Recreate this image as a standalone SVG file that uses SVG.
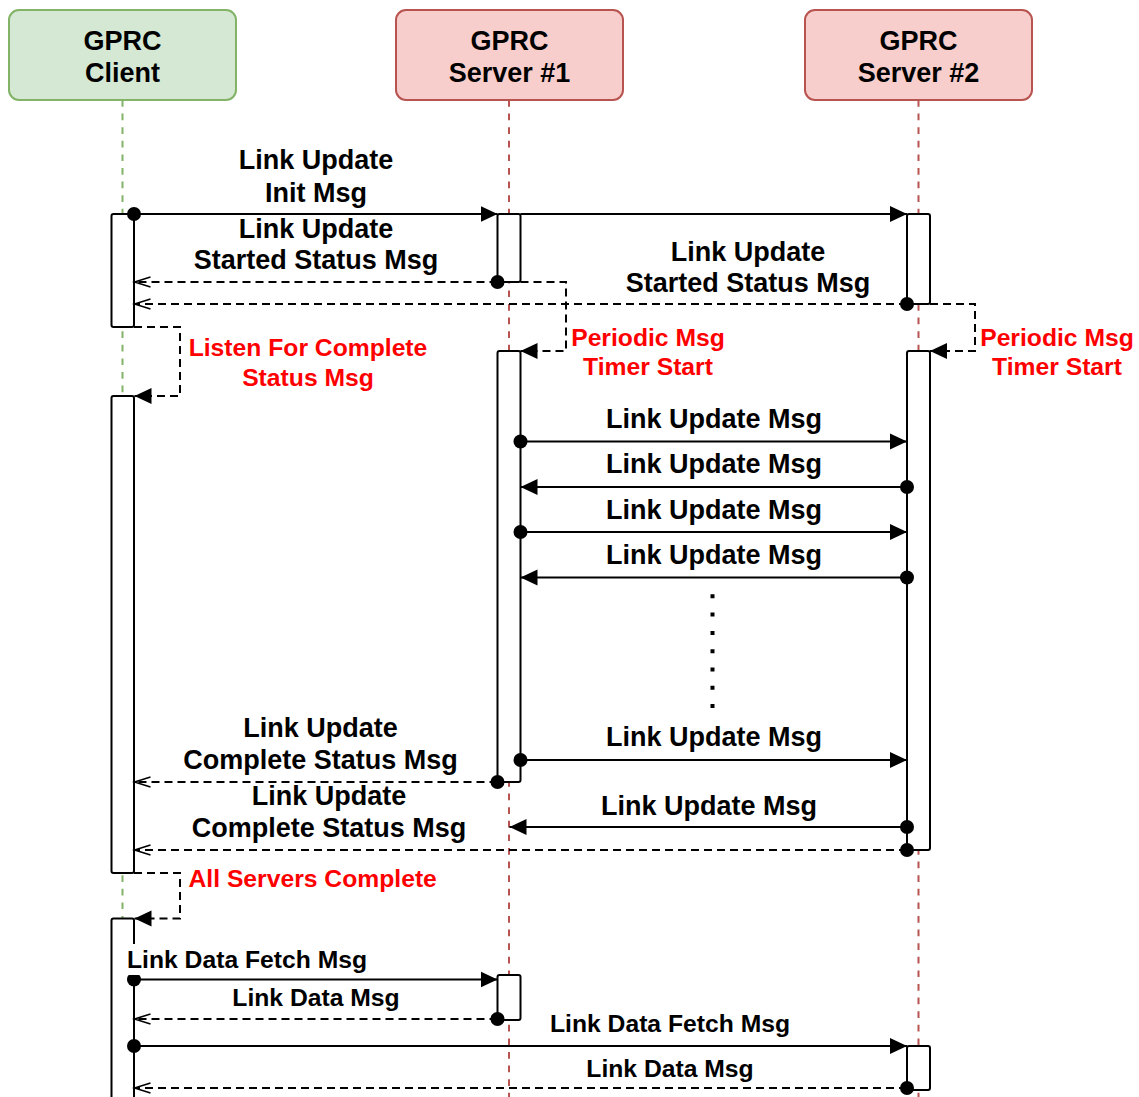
<svg xmlns="http://www.w3.org/2000/svg" width="1139" height="1097" viewBox="0 0 1139 1097">
<style>
text{font-family:"Liberation Sans",Arial,sans-serif;font-weight:bold;font-size:27px;fill:#000;text-anchor:middle}
text.red{fill:#ff0000;font-size:24.7px}
text.sm{font-size:24.7px}
text.start{text-anchor:start}
.head-g{fill:#d5e8d4;stroke:#82b366;stroke-width:2}
.head-r{fill:#f8cecc;stroke:#b85450;stroke-width:2}
.life-g{stroke:#82b366;stroke-width:2;stroke-dasharray:6.7 6.9;fill:none}
.life-r{stroke:#b85450;stroke-width:2;stroke-dasharray:6.7 6.9;fill:none}
.act{fill:#fff;stroke:#000;stroke-width:2}
.msg{fill:none;stroke:#000;stroke-width:2}
.dash{stroke-dasharray:8 5}
.dots{fill:none;stroke:#000;stroke-width:4;stroke-dasharray:4 14.3}
</style>
<defs>
<marker id="fa" markerUnits="userSpaceOnUse" markerWidth="20" markerHeight="20" viewBox="0 -10 20 20" refX="17" refY="0" orient="auto"><path d="M0,-8 L17,0 L0,8 z" fill="#000" stroke="none"/></marker>
<marker id="oa" markerUnits="userSpaceOnUse" markerWidth="20" markerHeight="20" viewBox="0 -10 20 20" refX="17" refY="0" orient="auto"><path d="M1,-5 L17,0 L1,5" fill="none" stroke="#000" stroke-width="1.6"/></marker>
<marker id="dot" markerUnits="userSpaceOnUse" markerWidth="16" markerHeight="16" viewBox="-8 -8 16 16" refX="0" refY="0"><circle r="7" fill="#000"/></marker>
</defs>
<rect width="1139" height="1097" fill="#fff"/>

<g id="lifelines">
<line class="life-g" x1="122.5" y1="100" x2="122.5" y2="1097"/>
<line class="life-r" x1="509" y1="100" x2="509" y2="1097"/>
<line class="life-r" x1="918.5" y1="100" x2="918.5" y2="1097"/>
</g>

<g id="client">
<rect class="head-g" x="9" y="10" width="227" height="90" rx="10"/>
<text x="122.5" y="50">GPRC</text>
<text x="122.5" y="82">Client</text>
</g>
<g id="server1">
<rect class="head-r" x="396" y="10" width="227" height="90" rx="10"/>
<text x="509.5" y="50">GPRC</text>
<text x="509.5" y="82">Server #1</text>
</g>
<g id="server2">
<rect class="head-r" x="805" y="10" width="227" height="90" rx="10"/>
<text x="918.5" y="50">GPRC</text>
<text x="918.5" y="82">Server #2</text>
</g>

<g id="activations">
<rect id="client-act1" class="act" x="111.5" y="214" width="22.5" height="113" rx="2"/>
<rect id="client-act2" class="act" x="111.5" y="396" width="22.5" height="477" rx="2"/>
<rect id="client-act3" class="act" x="111.5" y="918.5" width="22.5" height="200" rx="2"/>
<rect id="s1-act1" class="act" x="497.5" y="214" width="23" height="68" rx="2"/>
<rect id="s1-act2" class="act" x="497.5" y="351" width="23" height="431" rx="2"/>
<rect id="s1-act3" class="act" x="497.5" y="975" width="23" height="45" rx="2"/>
<rect id="s2-act1" class="act" x="907" y="214" width="23" height="90" rx="2"/>
<rect id="s2-act2" class="act" x="907" y="351" width="23" height="499" rx="2"/>
<rect id="s2-act3" class="act" x="907" y="1046" width="23" height="44" rx="2"/>
</g>

<g id="connectors">
<path class="msg" d="M134,214 H497.5" marker-start="url(#dot)" marker-end="url(#fa)"/>
<path class="msg" d="M520.5,214 H907" marker-end="url(#fa)"/>
<path class="msg dash" d="M497.5,282 H134.5" marker-start="url(#dot)" marker-end="url(#oa)"/>
<path class="msg dash" d="M907,304 H134.5" marker-start="url(#dot)" marker-end="url(#oa)"/>
<path class="msg dash" d="M520.5,282 H566 V351 H520.5" marker-end="url(#fa)"/>
<path class="msg dash" d="M930,304 H975 V351 H930" marker-end="url(#fa)"/>
<path class="msg dash" d="M134,327 H180 V396 H134.5" marker-end="url(#fa)"/>
<path class="msg" d="M520.5,441.5 H907" marker-start="url(#dot)" marker-end="url(#fa)"/>
<path class="msg" d="M907,487 H520.5" marker-start="url(#dot)" marker-end="url(#fa)"/>
<path class="msg" d="M520.5,532 H907" marker-start="url(#dot)" marker-end="url(#fa)"/>
<path class="msg" d="M907,577.5 H520.5" marker-start="url(#dot)" marker-end="url(#fa)"/>
<line class="dots" x1="712.5" y1="594.3" x2="712.5" y2="710"/>
<path class="msg" d="M520.5,760 H907" marker-start="url(#dot)" marker-end="url(#fa)"/>
<path class="msg dash" d="M497.5,782 H134.5" marker-start="url(#dot)" marker-end="url(#oa)"/>
<path class="msg" d="M907,827 H509.5" marker-start="url(#dot)" marker-end="url(#fa)"/>
<path class="msg dash" d="M907,850 H134.5" marker-start="url(#dot)" marker-end="url(#oa)"/>
<path class="msg dash" d="M134,873 H180 V918.5 H134.5" marker-end="url(#fa)"/>
<path class="msg" d="M134,979.5 H497.5" marker-start="url(#dot)" marker-end="url(#fa)"/>
<path class="msg dash" d="M497.5,1019 H134.5" marker-start="url(#dot)" marker-end="url(#oa)"/>
<path class="msg" d="M134,1046 H907" marker-start="url(#dot)" marker-end="url(#fa)"/>
<path class="msg dash" d="M907,1088 H134.5" marker-start="url(#dot)" marker-end="url(#oa)"/>
</g>

<g id="labels">
<text x="316" y="169">Link Update</text>
<text x="316" y="202">Init Msg</text>
<text x="316" y="238">Link Update</text>
<text x="316" y="269">Started Status Msg</text>
<text x="748" y="261">Link Update</text>
<text x="748" y="292">Started Status Msg</text>
<text class="red" x="648" y="346">Periodic Msg</text>
<text class="red" x="648" y="375">Timer Start</text>
<text class="red" x="1057" y="346">Periodic Msg</text>
<text class="red" x="1057" y="375">Timer Start</text>
<text class="red" x="308" y="356">Listen For Complete</text>
<text class="red" x="308" y="386">Status Msg</text>
<text x="714" y="428">Link Update Msg</text>
<text x="714" y="473">Link Update Msg</text>
<text x="714" y="519">Link Update Msg</text>
<text x="714" y="564">Link Update Msg</text>
<text x="714" y="746">Link Update Msg</text>
<text x="320.5" y="737">Link Update</text>
<text x="320.5" y="769">Complete Status Msg</text>
<text x="709" y="815">Link Update Msg</text>
<text x="329" y="805">Link Update</text>
<text x="329" y="837">Complete Status Msg</text>
<text class="red start" x="188.5" y="887">All Servers Complete</text>
<rect x="126" y="944" width="243" height="31" fill="#fff"/>
<text class="sm start" x="127" y="968">Link Data Fetch Msg</text>
<text class="sm" x="316" y="1006">Link Data Msg</text>
<text class="sm" x="670" y="1032">Link Data Fetch Msg</text>
<text class="sm" x="670" y="1077">Link Data Msg</text>
</g>
</svg>
